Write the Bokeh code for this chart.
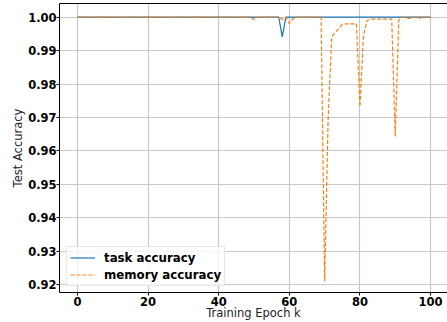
from bokeh.plotting import figure
from bokeh.models import Range1d, FixedTicker, LinearAxis, Legend, LegendItem, NumeralTickFormatter
from bokeh.embed import file_html
from bokeh.resources import INLINE

epochs = list(range(0, 101))

task_acc = [
    1.0, 1.0, 1.0, 1.0, 1.0, 1.0, 1.0, 1.0, 1.0, 1.0,
    1.0, 1.0, 1.0, 1.0, 1.0, 1.0, 1.0, 1.0, 1.0, 1.0,
    1.0, 1.0, 1.0, 1.0, 1.0, 1.0, 1.0, 1.0, 1.0, 1.0,
    1.0, 1.0, 1.0, 1.0, 1.0, 1.0, 1.0, 1.0, 1.0, 1.0,
    1.0, 1.0, 1.0, 1.0, 1.0, 1.0, 1.0, 1.0, 1.0, 1.0,
    1.0, 1.0, 1.0, 1.0, 1.0, 1.0, 1.0, 1.0, 0.9941, 1.0,
    1.0, 1.0, 1.0, 1.0, 1.0, 1.0, 1.0, 1.0, 1.0, 1.0,
    1.0, 1.0, 1.0, 1.0, 1.0, 1.0, 1.0, 1.0, 1.0, 1.0,
    1.0, 1.0, 1.0, 1.0, 1.0, 1.0, 1.0, 1.0, 1.0, 1.0,
    1.0, 1.0, 1.0, 1.0, 1.0, 1.0, 1.0, 1.0, 1.0, 1.0,
    1.0,
]

memory_acc = [
    1.0, 1.0, 1.0, 1.0, 1.0, 1.0, 1.0, 1.0, 1.0, 1.0,
    1.0, 1.0, 1.0, 1.0, 1.0, 1.0, 1.0, 1.0, 1.0, 1.0,
    1.0, 1.0, 1.0, 1.0, 1.0, 1.0, 1.0, 1.0, 1.0, 1.0,
    1.0, 1.0, 1.0, 1.0, 1.0, 1.0, 1.0, 1.0, 1.0, 1.0,
    1.0, 1.0, 1.0, 1.0, 1.0, 1.0, 1.0, 1.0, 1.0, 1.0,
    0.9993, 1.0, 1.0, 1.0, 1.0, 1.0, 1.0, 1.0, 0.9993, 1.0,
    0.9981, 0.9995, 1.0, 1.0, 1.0, 1.0, 1.0, 1.0, 1.0, 1.0,
    0.921, 0.970, 0.9941, 0.9955, 0.9965, 0.9979, 0.998, 0.998, 0.998, 0.998,
    0.9732, 0.9945, 0.9990, 0.9994, 0.9994, 0.9994, 0.9994, 0.9994, 0.9994, 0.9994,
    0.9643, 0.9992, 1.0, 0.9998, 0.9996, 1.0, 1.0, 0.9997, 1.0, 1.0,
    1.0,
]

x_ticks = [0, 20, 40, 60, 80, 100]
y_ticks = [0.92, 0.93, 0.94, 0.95, 0.96, 0.97, 0.98, 0.99, 1.00]
x_label = "Training Epoch k"
y_label = "Test Accuracy"

FONT = "DejaVu Sans"

p = figure(
    width=447, height=322,
    output_backend="svg", toolbar_location=None,
    x_range=Range1d(-5.1, 104.8),
    y_range=Range1d(0.917612, 1.00409),
    min_border_left=59, min_border_right=0, min_border_top=3, min_border_bottom=29,
)
p.outline_line_color = None
p.background_fill_color = "white"
p.border_fill_color = "white"

for ax in (p.xaxis[0], p.yaxis[0]):
    ax.axis_line_color = "black"
    ax.axis_line_width = 1
    ax.major_tick_out = 3
    ax.major_tick_in = 0
    ax.minor_tick_out = 0
    ax.minor_tick_in = 0
    ax.major_tick_line_color = "black"
    ax.major_label_text_font = FONT
    ax.major_label_text_font_style = "bold"
    ax.major_label_text_font_size = "11.5px"
    ax.major_label_text_color = "black"
    ax.axis_label_text_font = FONT
    ax.axis_label_text_font_style = "normal"
    ax.axis_label_text_font_size = "11.5px"
    ax.axis_label_text_color = "#222222"

p.xaxis[0].major_label_standoff = 1
p.xaxis[0].axis_label_standoff = -3
p.xaxis[0].axis_label_text_line_height = 0.8
p.yaxis[0].major_label_standoff = 0
p.yaxis[0].axis_label_standoff = 0

p.xaxis[0].ticker = FixedTicker(ticks=x_ticks)
p.yaxis[0].ticker = FixedTicker(ticks=y_ticks)
p.yaxis[0].formatter = NumeralTickFormatter(format="0.00")
p.xaxis[0].axis_label = x_label
p.yaxis[0].axis_label = y_label

top_axis = LinearAxis(ticker=FixedTicker(ticks=[]), major_tick_out=0, major_tick_in=0,
                      minor_tick_out=0, minor_tick_in=0, major_label_text_font_size="0px",
                      major_label_standoff=0, axis_line_color="black")
p.add_layout(top_axis, "above")

p.xgrid.ticker = FixedTicker(ticks=x_ticks)
p.ygrid.ticker = FixedTicker(ticks=y_ticks)
p.xgrid.grid_line_color = "#c8c8c8"
p.ygrid.grid_line_color = "#c8c8c8"
p.xgrid.grid_line_width = 1.2
p.ygrid.grid_line_width = 1.2

r1 = p.line(epochs, task_acc, line_color="#1f77b4", line_width=1.2)
r2 = p.line(epochs, memory_acc, line_color="#ff7f0e", line_width=1.2, line_dash="4 2")

legend = Legend(
    items=[LegendItem(label="task accuracy", renderers=[r1]),
           LegendItem(label="memory accuracy", renderers=[r2])],
    location=(7, 6),
    margin=0,
    padding=3,
    spacing=2,
    glyph_width=25,
    glyph_height=15,
    label_height=15,
    label_standoff=9,
    label_text_font=FONT,
    label_text_font_style="bold",
    label_text_font_size="11.8px",
    label_text_color="black",
    border_line_color="#d0d0d0",
    border_line_width=1,
    background_fill_color="white",
    background_fill_alpha=0.8,
)
p.add_layout(legend)

open("out.html", "w").write(file_html(p, INLINE))
